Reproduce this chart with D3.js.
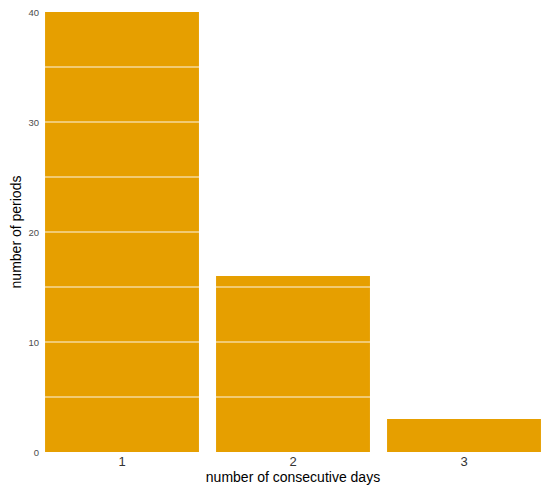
<!DOCTYPE html>
<html><head><meta charset="utf-8">
<script src="https://cdn.jsdelivr.net/npm/d3@7"></script>
<style>body{margin:0;background:#fff}svg{display:block}</style>
</head><body>
<svg id="c" width="550" height="488"></svg>
<script>
const categories = ["1", "2", "3"];
const values = [40, 16, 3];
const yTicks = [0, 10, 20, 30, 40];
const gridVals = [5, 10, 15, 20, 25, 30, 35];

const svg = d3.select("#c");
const font = "Liberation Sans, Arial, Helvetica, sans-serif";
const x = d3.scaleBand().domain(categories).range([36.5, 549.5]).paddingInner(0.1).paddingOuter(0.05);
const y = d3.scaleLinear().domain([0, 40]).range([452, 12]);

svg.selectAll("rect.bar").data(categories).join("rect")
  .attr("class", "bar")
  .attr("x", d => x(d)).attr("width", x.bandwidth())
  .attr("y", (d, i) => y(values[i])).attr("height", (d, i) => y(0) - y(values[i]))
  .attr("fill", "#E69F00");

svg.selectAll("line.grid").data(gridVals).join("line")
  .attr("class", "grid")
  .attr("x1", 36.5).attr("x2", 549.5)
  .attr("y1", d => y(d)).attr("y2", d => y(d))
  .attr("stroke", "#fff").attr("stroke-opacity", 0.9).attr("stroke-width", 1);

const ya = svg.append("g").attr("transform", "translate(39,0)")
  .call(d3.axisLeft(y).tickValues(yTicks).tickSize(0).tickPadding(0));
ya.select(".domain").remove();
ya.selectAll("text").attr("font-family", font).attr("font-size", 9.5).attr("fill", "#4d4d4d");

const xa = svg.append("g").attr("transform", "translate(0,454)")
  .call(d3.axisBottom(x).tickSize(0).tickPadding(3));
xa.select(".domain").remove();
xa.selectAll("text").attr("font-family", font).attr("font-size", 13).attr("fill", "#333");

svg.append("text").attr("x", 293).attr("y", 482).attr("text-anchor", "middle")
  .attr("font-family", font).attr("font-size", 14).attr("fill", "#000")
  .text("number of consecutive days");
svg.append("text").attr("transform", "translate(21,232) rotate(-90)").attr("text-anchor", "middle")
  .attr("font-family", font).attr("font-size", 14).attr("fill", "#000")
  .text("number of periods");
</script>
</body></html>
